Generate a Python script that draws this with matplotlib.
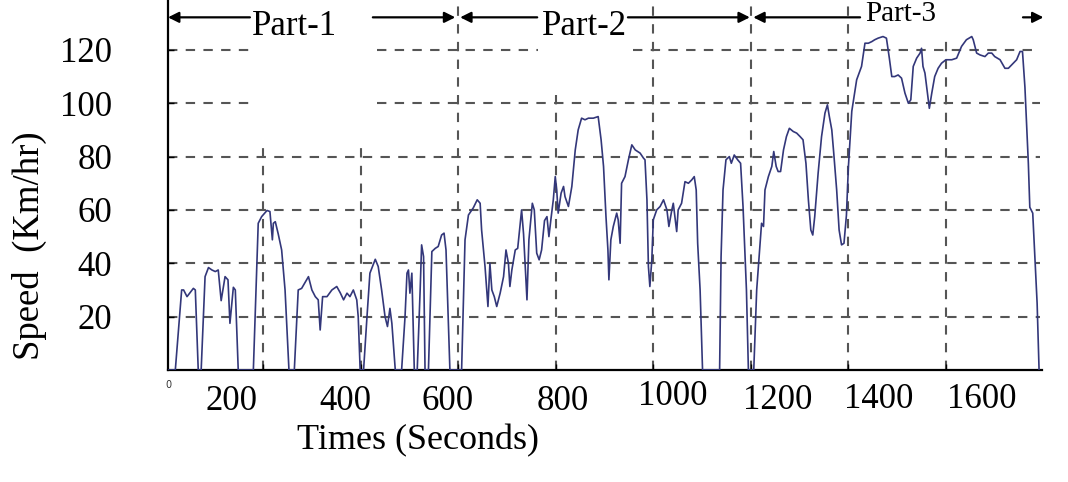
import matplotlib
matplotlib.use('Agg')
import matplotlib.pyplot as plt

# speed trace (time in s, speed in km/h)
time_s = [5, 20, 33, 37, 44, 57, 61, 67, 73, 81, 88, 95, 102, 108, 114, 122, 128, 132, 139, 143,
          149, 180, 190, 197, 208, 214, 219, 221, 225, 231, 238, 245, 253, 264, 272, 279, 293, 300,
          307, 313, 317, 322, 331, 341, 351, 358, 365, 372, 378, 385, 392, 395, 399, 406, 413, 419,
          430, 436, 443, 450, 455, 460, 464, 471, 484, 491, 495, 498, 501, 505, 510, 516, 522, 525,
          529, 532, 539, 546, 553, 559, 566, 571, 575, 583, 607, 614, 621, 631, 639, 645, 648, 655,
          661, 665, 669, 674, 679, 686, 693, 698, 703, 706, 710, 717, 722, 730, 734, 741, 745, 752,
          756, 761, 766, 771, 777, 782, 786, 790, 795, 799, 802, 805, 811, 816, 819, 826, 833, 840,
          846, 853, 860, 867, 877, 887, 893, 898, 903, 907, 909, 913, 918, 925, 928, 932, 935, 942,
          949, 956, 963, 973, 980, 983, 987, 990, 993, 997, 1000, 1007, 1014, 1021, 1028, 1032,
          1038, 1041, 1048, 1051, 1058, 1065, 1072, 1079, 1084, 1088, 1091, 1096, 1101, 1136, 1139,
          1143, 1149, 1156, 1160, 1166, 1173, 1179, 1184, 1191, 1195, 1206, 1212, 1219, 1222, 1226,
          1229, 1236, 1243, 1247, 1252, 1256, 1261, 1267, 1273, 1279, 1287, 1294, 1301, 1307, 1313,
          1318, 1323, 1327, 1331, 1338, 1345, 1352, 1357, 1361, 1366, 1370, 1376, 1381, 1386, 1391,
          1396, 1400, 1407, 1417, 1427, 1434, 1441, 1448, 1454, 1461, 1471, 1478, 1484, 1489, 1495,
          1502, 1509, 1516, 1523, 1528, 1533, 1540, 1547, 1550, 1553, 1557, 1562, 1566, 1571, 1577,
          1584, 1591, 1600, 1612, 1622, 1632, 1642, 1653, 1656, 1663, 1670, 1680, 1687, 1694, 1700,
          1711, 1721, 1728, 1738, 1745, 1752, 1757, 1762, 1765, 1769, 1772, 1778, 1782, 1787, 1791]
speed_kmh = [0, 0, 30, 30, 27.5, 30.6, 30, 0, 0, 35, 38.4, 37.5, 36.9, 37.5, 26, 35, 33.8, 17.5, 31, 30,
             0, 0, 55, 57.5, 59.8, 59.4, 48.8, 55, 55.6, 51, 45, 30, 0, 0, 30, 30.6, 35, 30,
             27.5, 26.3, 15, 27.5, 27.5, 30, 31.3, 29, 26.3, 28.8, 27.5, 30, 26.3, 20, 0, 0, 20, 36.3,
             41.5, 38.8, 30, 20, 16.3, 23.1, 17.5, 0, 0, 20, 36.3, 37.5, 28.8, 36.3, 0, 0, 30, 46.9,
             42.5, 0, 0, 44.4, 45.6, 46.3, 50.6, 51.3, 45, 0, 0, 48.8, 58.1, 60.8, 63.8, 62.5, 52.5, 38.8,
             23.8, 40, 30, 27.5, 23.8, 28.8, 35, 45, 40, 31.3, 37.5, 45, 45.6, 60, 51, 26.3, 48.8, 62.5,
             60, 43.8, 41.3, 45, 56, 57.5, 50, 56.3, 63.8, 72.5, 67.5, 58.8, 66.3, 68.8, 65, 61.3, 68.8, 82.5,
             90, 94.4, 93.8, 94.4, 94.4, 95, 86.3, 76.3, 57.5, 45, 33.8, 48.8, 53.8, 58.8, 56.3, 47.5, 70, 72.5,
             78.8, 84.4, 82.5, 81.3, 79.4, 78.8, 63.8, 38.8, 31.3, 41.3, 56.3, 60, 61.3, 63.8, 60, 53.8,
             60, 62.5, 51.9, 60, 62.5, 70.6, 70, 71.3, 72.5, 67.5, 47.5, 30, 0, 0, 42.5,
             67.5, 78.8, 80, 77.5, 80.6, 78.8, 77.5, 61.3, 30, 0, 0, 30, 47.5, 55, 53.8,
             67.5, 72.5, 76.3, 81.9, 76.3, 74.4, 74.4, 82.5, 87.5, 90.6, 89.4, 88.8, 87.5, 86.3, 77.5,
             63.8, 52.5, 50.6, 57.5, 73.8, 87.5, 96.3, 99.4, 95, 90, 81.3, 67.5, 52.5, 46.9, 47.5,
             58, 76, 97, 108.8, 113.8, 122.5, 122.5, 123.1, 123.8, 124.4, 125, 124.4, 116.9, 110, 110,
             110.6, 109.4, 103.8, 100, 101.3, 113.8, 116.9, 118.8, 120.6, 113.8, 111.3, 103.8, 98.1, 103.8, 110,
             113.1, 115, 116.3, 116.3, 116.9, 121.3, 123.8, 125, 123.8, 118.8, 118.1, 117.5, 118.8, 118.8, 117.5,
             116.3, 113.1, 113.1, 115, 116.3, 119.4, 119.4, 106, 93.8, 77.5, 61, 58.8, 43.8, 25, 0]

yticks = [20, 40, 60, 80, 100, 120]
xticks = [200, 400, 600, 800, 1000, 1200, 1400, 1600]
xtick_labels = ["200", "400", "600", "800", "1000", "1200", "1400", "1600"]
# the printed labels sit off their grid lines in the original
xlabel_x = [136, 368, 578, 814, 1040, 1255, 1463, 1674]
xlabel_y = [-0.085, -0.085, -0.085, -0.085, -0.072, -0.082, -0.081, -0.081]

parts = ["Part-1", "Part-2", "Part-3"]

SERIF = 'Liberation Serif'
GRID_C = '#555555'

fig = plt.figure(figsize=(10.68, 4.82), dpi=100)
ax = fig.add_axes([168 / 1068, 112 / 482, 874 / 1068, 370 / 482])
ax.set_xlim(5, 1797)
ax.set_ylim(0, 138.7)

# broken dashed grid, as in the scan
hgrid = [(20, 5, 1793), (40, 5, 1793), (60, 5, 1793), (80, 5, 1793),
         (100, 5, 179), (100, 433, 1793),
         (120, 5, 179), (120, 433, 764), (120, 958, 1793)]
vgrid = [(200, 85.6), (400, 85.6), (600, 137), (800, 106),
         (1000, 137), (1200, 137), (1400, 137), (1600, 124)]
for y, x0, x1 in hgrid:
    ax.plot([x0, x1], [y, y], color=GRID_C, lw=1.5, dashes=(4.5, 4), zorder=1)
for x, ytop in vgrid:
    ax.plot([x, x], [0, ytop], color=GRID_C, lw=1.5, dashes=(4.5, 4), zorder=1)

ax.plot(time_s, speed_kmh, color='#33377a', lw=1.2, zorder=3)

ax.spines['top'].set_visible(False)
ax.spines['right'].set_visible(False)
ax.spines['left'].set_linewidth(1.6)
ax.spines['bottom'].set_linewidth(1.6)

ax.set_xticks(xticks)
ax.set_xticklabels([])
ax.set_yticks(yticks)
ax.set_yticklabels([str(v) for v in yticks], fontfamily=SERIF, fontsize=25)
ax.tick_params(axis='both', direction='in', length=4, width=1)
ax.tick_params(axis='y', pad=40)

for x, y, lab in zip(xlabel_x, xlabel_y, xtick_labels):
    ax.text(x, y, lab, transform=ax.get_xaxis_transform(), ha='center', va='center',
            fontfamily=SERIF, fontsize=25)
ax.text(5, -0.04, "0", transform=ax.get_xaxis_transform(), ha='center', va='center',
        fontsize=7, color='#333333')

ax.set_xlabel("Times (Seconds)", fontfamily=SERIF, fontsize=26, va='center')
ax.xaxis.set_label_coords(0.286, -0.19)
ax.set_ylabel("Speed  (Km/hr)", fontfamily=SERIF, fontsize=26.5, va='center')
ax.yaxis.set_label_coords(-0.159, 0.335)

# part arrows along the top
arrow_y = 132.2
arrows = [(173, 5), (425, 594), (762, 604), (948, 1198), (1424, 1205), (1758, 1800)]
for tail, head in arrows:
    ax.annotate('', xy=(head, arrow_y), xytext=(tail, arrow_y), annotation_clip=False,
                arrowprops=dict(arrowstyle='-|>', color='black', lw=1.6,
                                mutation_scale=16, shrinkA=0, shrinkB=0))

ax.text(265, 125.6, parts[0], ha='center', va='baseline', fontfamily=SERIF, fontsize=25)
ax.text(858, 125.6, parts[1], ha='center', va='baseline', fontfamily=SERIF, fontsize=25)
ax.text(1507, 130.9, parts[2], ha='center', va='baseline', fontfamily=SERIF, fontsize=21)

plt.savefig('out.png', dpi=100)
